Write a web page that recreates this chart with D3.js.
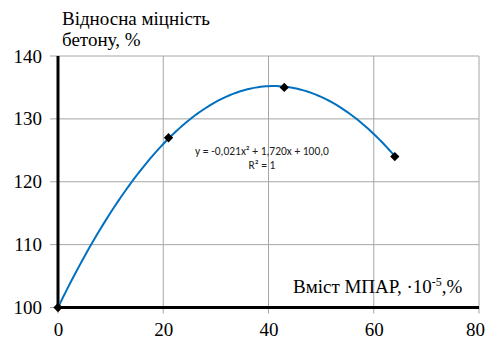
<!DOCTYPE html>
<html>
<head>
<meta charset="utf-8">
<script src="https://cdn.jsdelivr.net/npm/d3@7"></script>
<style>
  html, body { margin: 0; padding: 0; background: #fff; }
  svg { display: block; }
  .serif { font-family: "Liberation Serif", "Times New Roman", serif; }
  .sans { font-family: Carlito, "Liberation Sans", Arial, sans-serif; }
</style>
</head>
<body>
<svg id="chart" width="486" height="340"></svg>
<script>
// Measured points: MPAR content vs. relative concrete strength
const contentX = [0, 21, 43, 64];
const strengthY = [100, 127, 135, 124];
// Quadratic trend coefficients: y = a·x² + b·x + c
const trendCoef = [-0.021, 1.720, 100.0];
const xTicks = [0, 20, 40, 60, 80];
const yTicks = [100, 110, 120, 130, 140];
const trendLabel = ["y = -0,021x² + 1,720x + 100,0", "R² = 1"];
const yTitle = ["Відносна міцність", "бетону, %"];

const svg = d3.select("#chart");
const plot = { left: 58, right: 479, top: 56, bottom: 307.5 };

const x = d3.scaleLinear().domain([0, 80]).range([plot.left, plot.right]);
const y = d3.scaleLinear().domain([100, 140]).range([plot.bottom, plot.top]);

// Grid lines
svg.append("g").selectAll("line").data(xTicks.slice(1)).join("line")
  .attr("x1", d => x(d)).attr("x2", d => x(d))
  .attr("y1", plot.top).attr("y2", plot.bottom + 6)
  .attr("stroke", "#a6a6a6").attr("stroke-width", 1);
svg.append("g").selectAll("line").data(yTicks.slice(1)).join("line")
  .attr("x1", plot.left - 8).attr("x2", plot.right)
  .attr("y1", d => y(d)).attr("y2", d => y(d))
  .attr("stroke", "#a6a6a6").attr("stroke-width", 1);
// small ticks at the origin
svg.append("line").attr("x1", plot.left - 8).attr("x2", plot.left)
  .attr("y1", plot.bottom).attr("y2", plot.bottom).attr("stroke", "#a6a6a6");
svg.append("line").attr("x1", plot.left).attr("x2", plot.left)
  .attr("y1", plot.bottom).attr("y2", plot.bottom + 6).attr("stroke", "#a6a6a6");

// Tick labels via d3 axes
const yAxis = svg.append("g").attr("transform", `translate(${plot.left},0)`)
  .call(d3.axisLeft(y).tickValues(yTicks).tickSize(0).tickPadding(16));
yAxis.select(".domain").remove();
yAxis.attr("font-family", null).attr("font-size", null);
yAxis.selectAll("text").attr("class", "serif")
  .style("font-size", "19px").attr("fill", "#000");

const xAxis = svg.append("g").attr("transform", `translate(0,${plot.bottom})`)
  .call(d3.axisBottom(x).tickValues(xTicks).tickSize(0).tickPadding(15));
xAxis.select(".domain").remove();
xAxis.attr("font-family", null).attr("font-size", null);
xAxis.selectAll("text").attr("class", "serif")
  .style("font-size", "19px").attr("fill", "#000")
  .attr("dx", d => d === 80 ? -4 : 0);

// Main axis lines
svg.append("line").attr("x1", plot.left).attr("x2", plot.left)
  .attr("y1", plot.top).attr("y2", plot.bottom)
  .attr("stroke", "#000").attr("stroke-width", 3);
svg.append("line").attr("x1", plot.left).attr("x2", plot.right)
  .attr("y1", plot.bottom).attr("y2", plot.bottom)
  .attr("stroke", "#000").attr("stroke-width", 3);

// Trend curve
const poly = t => trendCoef[0] * t * t + trendCoef[1] * t + trendCoef[2];
const curveX = d3.range(0, 64.01, 0.5);
svg.append("path")
  .datum(curveX)
  .attr("d", d3.line().x(d => x(d)).y(d => y(poly(d))))
  .attr("fill", "none").attr("stroke", "#0070c0").attr("stroke-width", 2);

// Markers
svg.append("g").selectAll("path").data(contentX).join("path")
  .attr("transform", (d, i) => `translate(${x(d)},${y(strengthY[i])})`)
  .attr("d", d3.symbol(d3.symbolDiamond2, 55)())
  .attr("fill", "#000");

// Trend equation
svg.append("g").selectAll("text").data(trendLabel).join("text")
  .attr("class", "sans")
  .attr("x", 262).attr("y", (d, i) => 155 + i * 14)
  .attr("text-anchor", "middle")
  .style("font-size", "11.5px").attr("fill", "#222")
  .text(d => d);

// Y title
svg.append("g").selectAll("text").data(yTitle).join("text")
  .attr("class", "serif")
  .attr("x", 62).attr("y", (d, i) => 25 + i * 21)
  .style("font-size", "19px").attr("fill", "#000")
  .text(d => d);

// X title with superscript
const xt = svg.append("text").attr("class", "serif").attr("x", 293).attr("y", 293)
  .style("font-size", "19px").attr("fill", "#000");
xt.append("tspan").text("Вміст МПАР, ·10");
xt.append("tspan").attr("dy", -7).style("font-size", "12px").text("-5");
xt.append("tspan").attr("dy", 7).text(",%");
</script>
</body>
</html>
